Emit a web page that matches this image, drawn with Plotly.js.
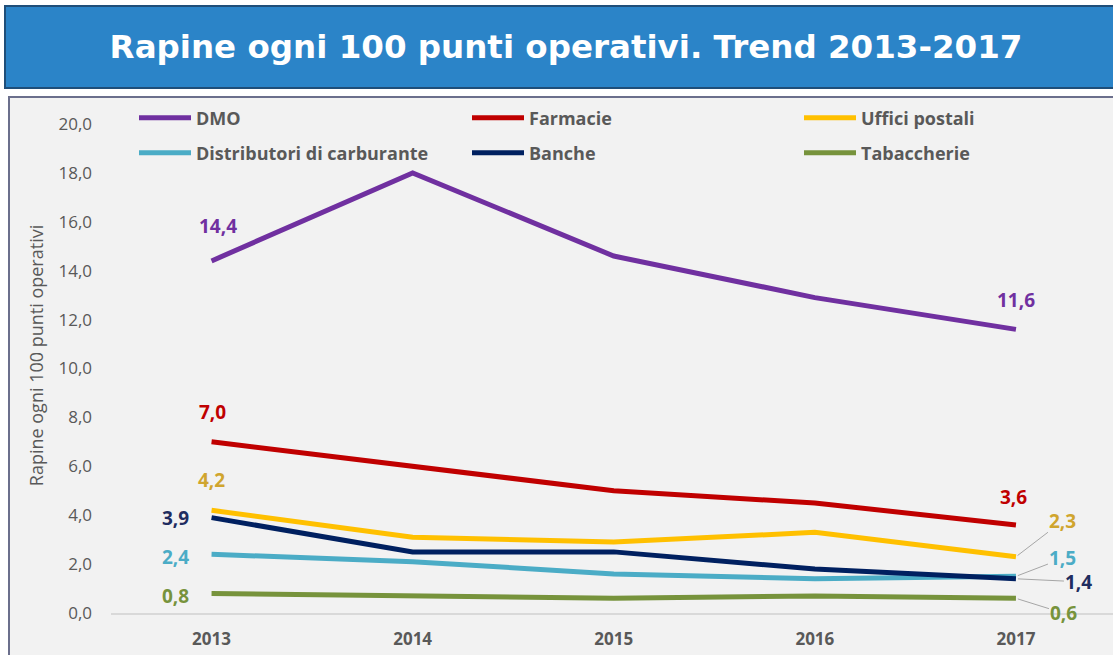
<!DOCTYPE html>
<html>
<head>
<meta charset="utf-8">
<script src="https://cdn.plot.ly/plotly-3.0.1.min.js"></script>
<style>
html,body{margin:0;padding:0;background:#fff;}
#chart{width:1113px;height:655px;}
</style>
</head>
<body>
<div id="chart"></div>
<script>
// ---- data ----
const years = ["2013", "2014", "2015", "2016", "2017"];
const seriesNames = ["DMO", "Farmacie", "Uffici postali", "Distributori di carburante", "Banche", "Tabaccherie"];
const dmo = [14.4, 18.0, 14.6, 12.9, 11.6];
const farmacie = [7.0, 6.0, 5.0, 4.5, 3.6];
const ufficiPostali = [4.2, 3.1, 2.9, 3.3, 2.3];
const distributori = [2.4, 2.1, 1.6, 1.4, 1.5];
const banche = [3.9, 2.5, 2.5, 1.8, 1.4];
const tabaccherie = [0.8, 0.7, 0.6, 0.7, 0.6];
const yTicks = [0, 2, 4, 6, 8, 10, 12, 14, 16, 18, 20];
const titleText = "Rapine ogni 100 punti operativi. Trend 2013-2017";
const yTitleText = "Rapine ogni 100 punti operativi";

// ---- style ----
const lineColors = ["#7030A0", "#C00000", "#FFC000", "#4BACC6", "#002060", "#77933C"];
const labelColors = ["#7030A0", "#C00000", "#D0A52E", "#4BACC6", "#1F2D60", "#77933C"];
const allValues = [dmo, farmacie, ufficiPostali, distributori, banche, tabaccherie];
const legendIds = ["legend", "legend2", "legend3", "legend4", "legend5", "legend6"];
const legendPos = [[134, 118], [467, 118], [799, 118], [134, 153], [467, 153], [799, 153]];

const W = 1113, H = 655;
const M = {l: 111, r: 0, t: 98, b: 42};
const PW = W - M.l - M.r, PH = H - M.t - M.b;
const px2x = p => (p - M.l) / PW;
const px2y = p => (H - M.b - p) / PH;
const Y_PER_UNIT = 24.45;
const yMax = PH / Y_PER_UNIT;

const FONT = "'Open Sans', 'Noto Sans', sans-serif";

const traces = allValues.map((vals, i) => ({
  type: "scatter",
  mode: "lines",
  name: seriesNames[i],
  x: years,
  y: vals,
  line: {color: lineColors[i], width: 5},
  legend: legendIds[i],
  hoverinfo: "x+y+name"
}));

const fmt = v => v.toFixed(1).replace(".", ",");
const last = years.length - 1;

const firstOff = [[6, 35], [1, 30], [0, 30], [-36, -3], [-36, 0], [-36, -3]];
const lastArrow = [null, null, [47, -36], [47, -18], [63, 3], [48, 15]];
const lastOff = [[0, 29], [-2, 28]];

const annotations = [];
allValues.forEach((vals, i) => {
  annotations.push({
    x: 0, y: vals[0], xref: "x", yref: "y",
    text: "<b>" + fmt(vals[0]) + "</b>", showarrow: false,
    xshift: firstOff[i][0], yshift: firstOff[i][1],
    font: {family: FONT, size: 19, color: labelColors[i]}
  });
  if (lastArrow[i]) {
    annotations.push({
      x: last, y: vals[last], xref: "x", yref: "y",
      text: "<b>" + fmt(vals[last]) + "</b>", showarrow: true,
      arrowhead: 0, arrowwidth: 1, arrowcolor: "#A6A6A6",
      ax: lastArrow[i][0], ay: lastArrow[i][1], standoff: 2,
      font: {family: FONT, size: 19, color: labelColors[i]}
    });
  } else {
    annotations.push({
      x: last, y: vals[last], xref: "x", yref: "y",
      text: "<b>" + fmt(vals[last]) + "</b>", showarrow: false,
      xshift: lastOff[i][0], yshift: lastOff[i][1],
      font: {family: FONT, size: 19, color: labelColors[i]}
    });
  }
});

const shapes = [
  {type: "rect", xref: "paper", yref: "paper", layer: "below",
   x0: px2x(9), x1: px2x(1125), y0: px2y(97), y1: px2y(670),
   fillcolor: "#F2F2F2", line: {color: "#6B6F8C", width: 2}},
  {type: "rect", xref: "paper", yref: "paper", layer: "below",
   x0: px2x(5), x1: px2x(1125), y0: px2y(6), y1: px2y(88),
   fillcolor: "#2B84C8", line: {color: "#1F4E79", width: 2}}
];

const layout = {
  width: W, height: H,
  margin: M,
  paper_bgcolor: "#FFFFFF",
  plot_bgcolor: "rgba(0,0,0,0)",
  separators: ",.",
  title: {
    text: "<b>" + titleText + "</b>",
    xref: "container", yref: "container",
    x: 566 / W, y: 1 - 47 / H, xanchor: "center", yanchor: "middle",
    font: {family: "'DejaVu Sans', Verdana, sans-serif", size: 32.5, color: "#FFFFFF"}
  },
  xaxis: {
    type: "category",
    range: [-0.5, (W - 212) / 201],
    showgrid: false, zeroline: false,
    showline: true, linecolor: "#D9D9D9", linewidth: 2,
    ticks: "",
    ticklabelstandoff: 10,
    tickfont: {family: FONT, size: 17, color: "#595959", weight: "bold"},
    fixedrange: true
  },
  yaxis: {
    range: [0, yMax],
    tickvals: yTicks,
    tickformat: ".1f",
    showgrid: false, zeroline: false, showline: false,
    ticks: "",
    ticklabelstandoff: 18,
    tickfont: {family: FONT, size: 17, color: "#595959"},
    title: {text: yTitleText, standoff: 10,
            font: {family: FONT, size: 18, color: "#595959"}},
    fixedrange: true
  },
  annotations: annotations,
  shapes: shapes,
  showlegend: true
};
legendIds.forEach((id, i) => {
  layout[id] = {
    orientation: "h", xref: "paper", yref: "paper",
    xanchor: "left", yanchor: "middle",
    x: px2x(legendPos[i][0]), y: px2y(legendPos[i][1]),
    bgcolor: "rgba(0,0,0,0)", borderwidth: 0,
    itemwidth: 52,
    font: {family: FONT, size: 18, color: "#595959", weight: "bold"}
  };
});

Plotly.newPlot("chart", traces, layout, {displayModeBar: false, staticPlot: true});
</script>
</body>
</html>
